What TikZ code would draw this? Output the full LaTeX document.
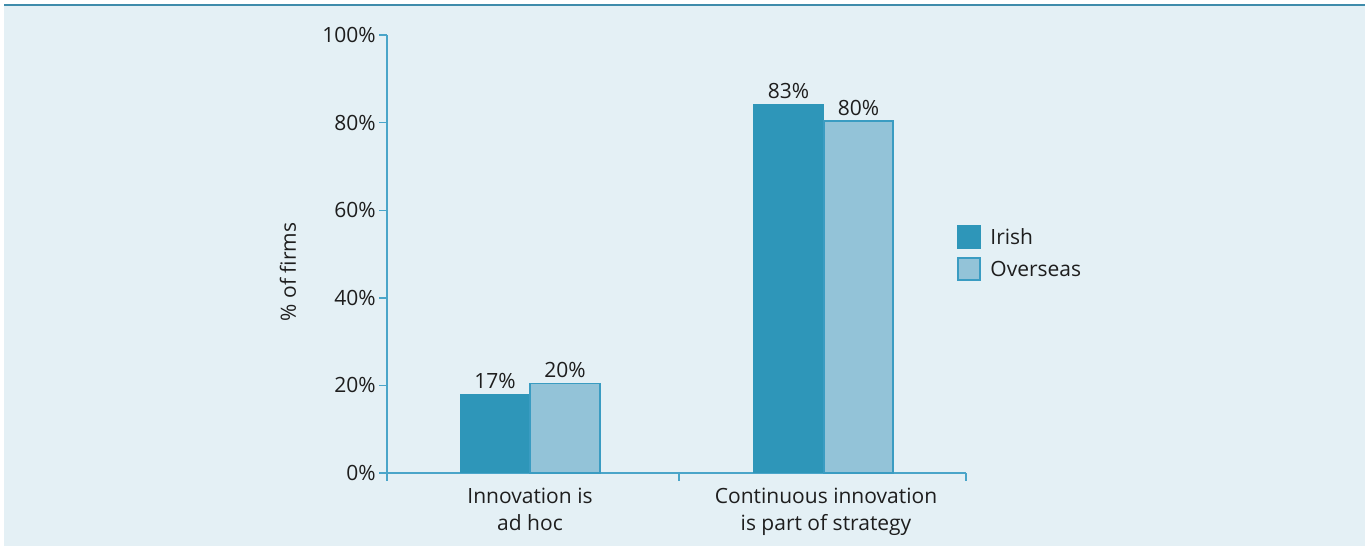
\documentclass[tikz,border=0pt]{standalone}
\usepackage{fontspec}
\setmainfont{Open Sans}
\definecolor{panel}{HTML}{E4F0F5}
\definecolor{axisblue}{HTML}{4AA5C9}
\definecolor{irish}{HTML}{2E96B9}
\definecolor{overseas}{HTML}{93C3D8}
\definecolor{edgeblue}{HTML}{3A9CC2}
\definecolor{inkgrey}{HTML}{1E1E1E}

\begin{document}
\begin{tikzpicture}[x=0.5pt,y=-0.5pt,font=\fontsize{10.5}{13.5}\selectfont,text=inkgrey,
  axis/.style={draw=axisblue,line width=0.7pt},
  irishbar/.style={fill=irish},
  overbar/.style={fill=overseas,draw=edgeblue,line width=0.6pt},
  val/.style={anchor=south,inner sep=2.5pt},
  cat/.style={anchor=north,align=center,inner sep=0pt}]
  \useasboundingbox (0,0) rectangle (1371,546);
  \fill[panel] (4,5) rectangle (1365,546);
  \draw[draw=axisblue!85!black,line width=1pt] (4,5) -- (1365,5);

  % axes
  \coordinate (o) at (387,473);
  \draw[axis] (387,35) -- (387,481);
  \draw[axis] (o) -- (966,473);
  \foreach \tx in {387,679,966}
    \draw[axis] (\tx,473) -- (\tx,481);
  \foreach \v in {0,20,...,100} {
    \draw[axis] (379,473-4.38*\v) -- (387,473-4.38*\v);
    \node[anchor=east,inner sep=1pt] (tick\v) at (378,473-4.38*\v) {\v\%};
  }
  \node[rotate=90] (ylab) at (288,272) {\% of firms};

  % bars
  \fill[irishbar] (460,473) rectangle (530,394);
  \draw[overbar] (530,473) rectangle (600,383.5);
  \fill[irishbar] (753,473) rectangle (824,104);
  \draw[overbar] (824,473) rectangle (893,121);
  \node[val] (ia) at (495,394) {17\%};
  \node[val] (oa) at (565,383.5) {20\%};
  \node[val] (ib) at (788.5,104) {83\%};
  \node[val] (ob) at (858.5,121) {80\%};

  \node[cat] (c1) at (530,488) {Innovation is\\ad hoc};
  \node[cat] (c2) at (826,488) {Continuous innovation\\is part of strategy};

  % legend
  \fill[irishbar] (957,225) rectangle (981,249);
  \draw[overbar,line width=1pt] (958,258) rectangle (980,280);
  \node[anchor=west,inner sep=0pt] (lirish) at (990,237) {Irish};
  \node[anchor=west,inner sep=0pt] (lover) at (990,269) {Overseas};
\end{tikzpicture}
\end{document}
